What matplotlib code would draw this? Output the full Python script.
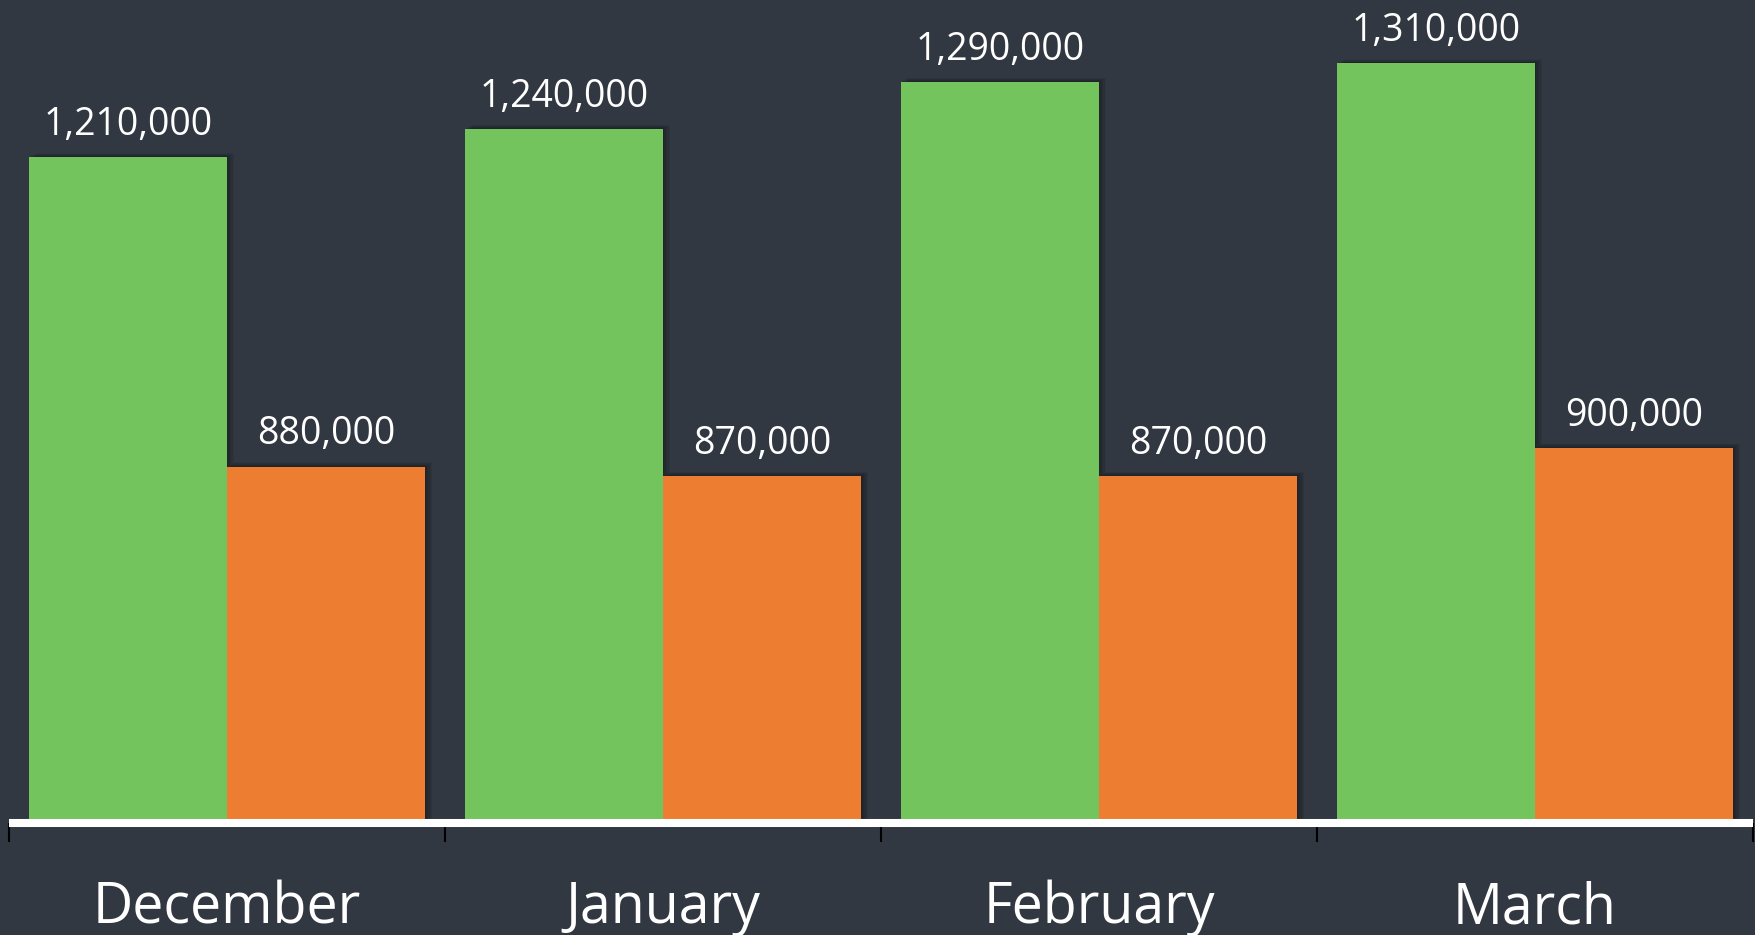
import matplotlib
matplotlib.use("Agg")
import matplotlib.pyplot as plt
import matplotlib.patheffects as pe
from matplotlib.ticker import FixedLocator

months = ["December", "January", "February", "March"]
series_a = [1210000, 1240000, 1290000, 1310000]
series_b = [880000, 870000, 870000, 900000]

BG = "#323841"
GREEN = "#73C45C"
ORANGE = "#ED7D31"

plt.rcParams["font.family"] = ["Open Sans", "DejaVu Sans"]

W, H = 1755, 935
fig = plt.figure(figsize=(W / 100, H / 100), dpi=100, facecolor=BG)
ax = fig.add_axes([9 / W, (H - 823) / H, 1744 / W, 823 / H])
ax.set_facecolor(BG)

x = list(range(len(months)))
bw = 0.455
shadow = [pe.SimplePatchShadow(offset=(d, d * 0.6), shadow_rgbFace="black", alpha=0.07)
          for d in (5, 4, 3, 2, 1)] + [pe.Normal()]
ba = ax.bar([i - bw / 2 for i in x], series_a, width=bw, bottom=0, color=GREEN, zorder=2)
bb = ax.bar([i + bw / 2 for i in x], series_b, width=bw, bottom=0, color=ORANGE, zorder=2)
for p in list(ba) + list(bb):
    p.set_path_effects(shadow)

ymin = 500000
ax.set_ylim(ymin, ymin + 823 / 938 * 1e6)
ax.set_xlim(-0.5, len(months) - 0.5)

for rects, vals in ((ba, series_a), (bb, series_b)):
    for r, v in zip(rects, vals):
        ax.annotate(f"{v:,}", (r.get_x() + r.get_width() / 2, v), xytext=(0, 16),
                    textcoords="offset points", ha="center", va="baseline",
                    color="white", fontsize=27)

for s in ("top", "left", "right"):
    ax.spines[s].set_visible(False)
ax.spines["bottom"].set_color("white")
ax.spines["bottom"].set_linewidth(5.8)
ax.spines["bottom"].set_capstyle("butt")
ax.spines["bottom"].set_zorder(3)

ax.set_yticks([])
ax.set_xticks(x)
ax.set_xticklabels(months)
ax.xaxis.set_minor_locator(FixedLocator([i - 0.5 for i in range(len(months) + 1)]))
ax.tick_params(axis="x", which="major", length=0, pad=72, labelsize=40, labelcolor="white")
ax.tick_params(axis="x", which="minor", length=14, width=1.5, color="black", direction="out")
for lbl in ax.get_xticklabels():
    lbl.set_va("baseline")

fig.savefig("out.png", dpi=100, facecolor=BG)
